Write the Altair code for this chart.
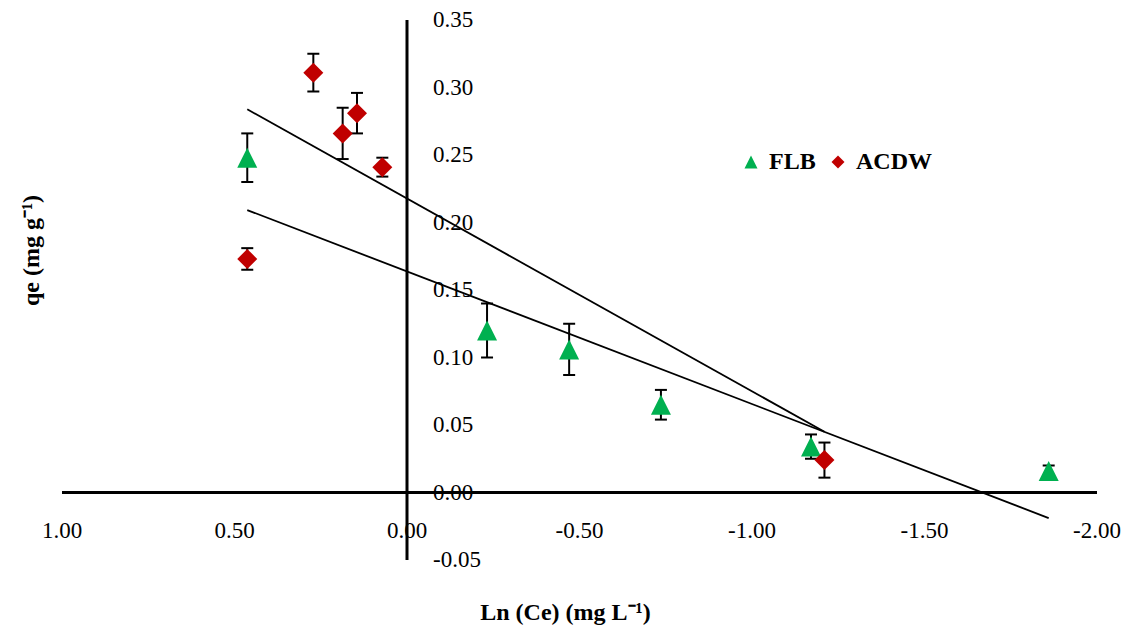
import altair as alt
import pandas as pd

# ---------------- data ----------------
series_names = ["FLB", "ACDW"]
series_colors = ["#00B050", "#C00000"]

flb_x = [0.463, -0.232, -0.470, -0.736, -1.171, -1.860]
flb_y = [0.248, 0.120, 0.106, 0.065, 0.034, 0.016]
flb_err = [0.018, 0.020, 0.019, 0.011, 0.009, 0.004]

acdw_x = [0.463, 0.2715, 0.1865, 0.145, 0.0715, -1.210]
acdw_y = [0.173, 0.311, 0.266, 0.281, 0.241, 0.024]
acdw_err = [0.008, 0.014, 0.019, 0.015, 0.007, 0.013]

x_tick_values = [1.0, 0.5, 0.0, -0.5, -1.0, -1.5, -2.0]
x_tick_labels = ["1.00", "0.50", "0.00", "-0.50", "-1.00", "-1.50", "-2.00"]
y_tick_values = [-0.05, 0.0, 0.05, 0.10, 0.15, 0.20, 0.25, 0.30, 0.35]
y_tick_labels = ["-0.05", "0.00", "0.05", "0.10", "0.15", "0.20", "0.25", "0.30", "0.35"]

x_min, x_max = -2.0, 1.0
y_min, y_max = -0.05, 0.35

x_title = "Ln (Ce) (mg L\u207b\u00b9)"
y_title = "qe (mg g\u207b\u00b9)"

# ---------------- tables ----------------
rows = []
for name, xs, ys, es in [("FLB", flb_x, flb_y, flb_err), ("ACDW", acdw_x, acdw_y, acdw_err)]:
    for a, b, c in zip(xs, ys, es):
        rows.append({"series": name, "x": a, "y": b, "err": c})
df = pd.DataFrame(rows)
xlab_df = pd.DataFrame({"v": x_tick_values, "t": x_tick_labels})
ylab_df = pd.DataFrame({"v": y_tick_values, "t": y_tick_labels})
one = pd.DataFrame({"a": [0]})

FONT = "Liberation Serif"
TRI = "M0,-1L1,1L-1,1Z"

xscale = alt.Scale(domain=[x_min, x_max], reverse=True, nice=False, zero=False)
yscale = alt.Scale(domain=[y_min, y_max], nice=False, zero=False)

xaxis = alt.Axis(title=x_title, domain=False, ticks=False, labels=False, grid=False,
                 titleFont=FONT, titleFontSize=24, titleFontWeight="bold", titleColor="black",
                 titleX=503, titleY=52, titleBaseline="middle", titleAlign="center")
yaxis = alt.Axis(title=y_title, domain=False, ticks=False, labels=False, grid=False,
                 titleFont=FONT, titleFontSize=24, titleFontWeight="bold", titleColor="black",
                 titleX=-31, titleY=230, titleBaseline="middle", titleAlign="center")

X = lambda f: alt.X(f, scale=xscale, axis=xaxis)
Y = lambda f: alt.Y(f, scale=yscale, axis=yaxis)

xlabels = alt.Chart(xlab_df).mark_text(font=FONT, fontSize=23, dy=38, baseline="middle",
                                       align="center", color="black").encode(
    x=X("v:Q"), y=alt.datum(0), text="t:N")

ylabels = alt.Chart(ylab_df).mark_text(font=FONT, fontSize=23, dx=26, baseline="middle",
                                       align="left", color="black").encode(
    x=alt.datum(0), y=Y("v:Q"), text="t:N")

hline = alt.Chart(one).mark_rule(color="black", strokeWidth=3).encode(
    x=alt.datum(x_max), x2=alt.datum(x_min), y=alt.datum(0))
vline = alt.Chart(one).mark_rule(color="black", strokeWidth=3).encode(
    x=alt.datum(0), y=alt.datum(y_min), y2=alt.datum(y_max))

base = alt.Chart(df).transform_calculate(lo="datum.y - datum.err", hi="datum.y + datum.err")

errbars = base.mark_rule(color="black", strokeWidth=2).encode(x=X("x:Q"), y=Y("lo:Q"), y2="hi:Q")
caps_lo = base.mark_tick(orient="horizontal", color="black", thickness=2, size=12, opacity=1).encode(
    x=X("x:Q"), y=Y("lo:Q"))
caps_hi = base.mark_tick(orient="horizontal", color="black", thickness=2, size=12, opacity=1).encode(
    x=X("x:Q"), y=Y("hi:Q"))

trend = alt.Chart(df).transform_regression("x", "y", groupby=["series"]).mark_line(
    color="black", strokeWidth=1.8).encode(x=X("x:Q"), y=Y("y:Q"), detail="series:N")

leg = alt.Legend(title=None, orient="none", legendX=677, legendY=130, direction="horizontal",
                 labelFont=FONT, labelFontSize=24, labelFontWeight="bold", labelColor="black",
                 symbolSize=170, symbolStrokeWidth=0, labelOffset=6, columnPadding=10)

points = alt.Chart(df).mark_point(filled=True, size=400, opacity=1).encode(
    x=X("x:Q"), y=Y("y:Q"),
    color=alt.Color("series:N", scale=alt.Scale(domain=series_names, range=series_colors), legend=leg),
    shape=alt.Shape("series:N", scale=alt.Scale(domain=series_names, range=[TRI, "diamond"]), legend=leg),
)

chart = alt.layer(xlabels, ylabels, hline, vline, errbars, caps_lo, caps_hi, trend, points).properties(
    width=1035, height=540,
    autosize=alt.AutoSizeParams(type="none"),
    padding={"left": 62, "top": 20, "right": 33, "bottom": 70},
).configure(background="white").configure_view(stroke="transparent", strokeWidth=0)

chart.save("out.html", embed_options={"renderer": "svg", "actions": False})
